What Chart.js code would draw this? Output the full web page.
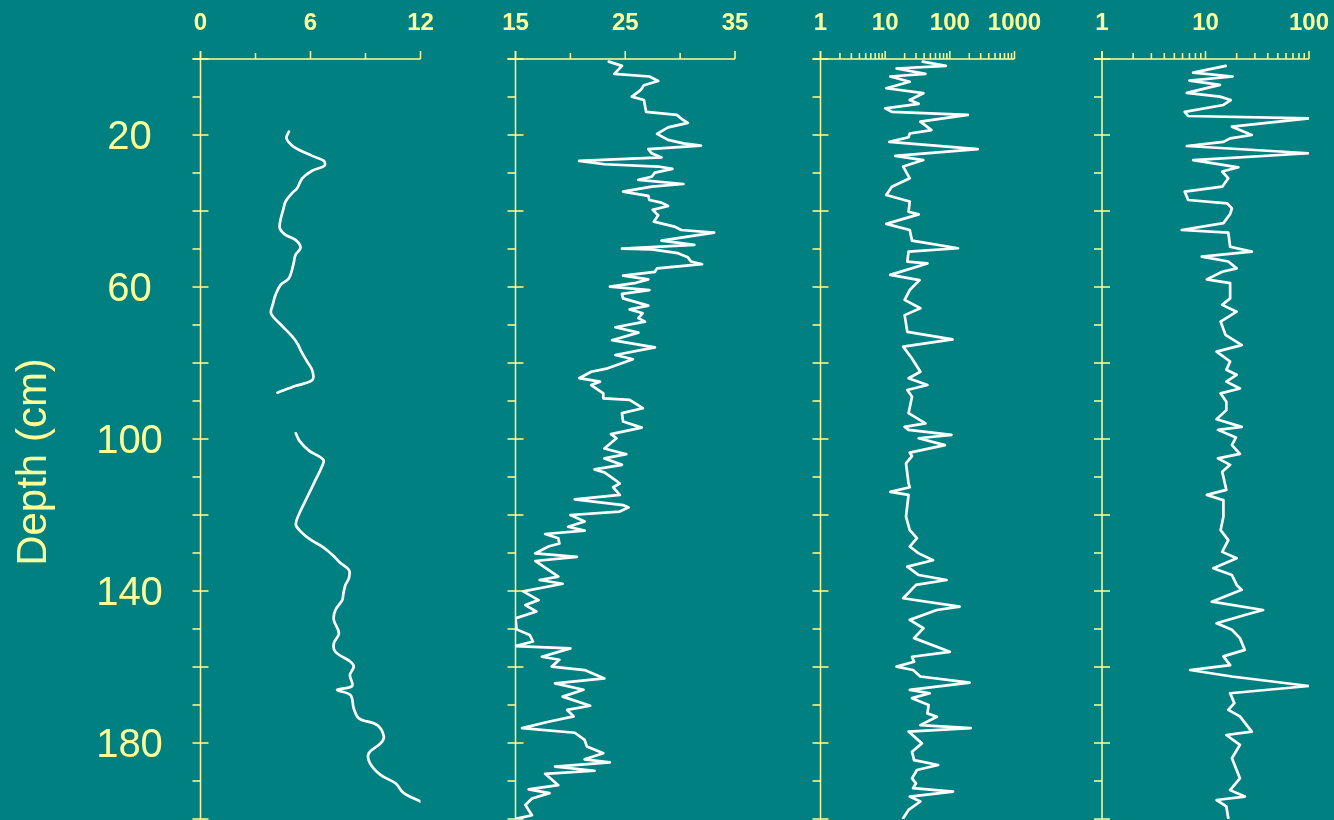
<!DOCTYPE html>
<html>
<head>
<meta charset="utf-8">
<title>Depth profiles</title>
<script src="https://cdn.jsdelivr.net/npm/chart.js@4.4.1/dist/chart.umd.min.js"></script>
<style>
  html, body { margin: 0; padding: 0; background: #008080; overflow: hidden; }
  #stage { position: relative; width: 1334px; height: 820px; }
  #stage canvas { position: absolute; left: 0; top: 0; }
</style>
</head>
<body>
<div id="stage">
  <canvas id="c1" width="1334" height="820"></canvas>
  <canvas id="c2" width="1334" height="820"></canvas>
  <canvas id="c3" width="1334" height="820"></canvas>
  <canvas id="c4" width="1334" height="820"></canvas>
</div>
<script>
// ---- depth axis (shared by all four panels) ----
const depthMin = 0;
const depthMax = 200;
const depthMajorTicks = [0, 20, 40, 60, 80, 100, 120, 140, 160, 180, 200];
const depthMinorTicks = [10, 30, 50, 70, 90, 110, 130, 150, 170, 190];
const depthLabels = [20, 60, 100, 140, 180];
const depthTitle = 'Depth (cm)';

// ---- panel 1 (linear 0–12); null marks the gap between the two core sections ----
const p1Ticks = [0, 6, 12];
const p1Minor = [3, 9];
const p1Depth = [19.1, 20.9, 23.1, 25.5, 26.8, 28.1, 29.4, 31.4, 34.0, 35.3, 37.5, 39.7, 42.4, 44.6, 46.3, 47.6, 49.6, 51.6, 54.2, 57.7, 59.5, 62.1, 64.5, 67.0, 70.0, 73.0, 75.0, 77.0, 79.5, 82.0, 84.5, 86.0, 87.8,
  93.0,
  98.5, 100.5, 103.0, 105.5, 107.5, 110.5, 113.5, 116.5, 119.5, 122.5, 124.5, 126.5, 128.5, 130.5, 132.5, 134.5, 136.5, 138.5, 140.5, 142.4, 145.0, 147.6, 151.1, 153.8, 156.0, 158.6, 159.9, 162.1, 165.0, 166.0, 167.4, 170.9, 173.5, 175.3, 178.3, 180.1, 182.7, 185.3, 188.4, 190.6, 193.2, 195.4];
const p1Value = [4.82, 4.69, 5.09, 6.09, 6.73, 6.76, 6.09, 5.55, 5.27, 5.0, 4.64, 4.51, 4.36, 4.33, 4.64, 5.18, 5.46, 5.18, 5.06, 4.82, 4.36, 4.09, 3.95, 3.85, 4.4, 5.0, 5.3, 5.5, 5.8, 6.1, 6.1, 5.2, 4.2,
  null,
  5.2, 5.4, 5.9, 6.7, 6.6, 6.3, 6.0, 5.7, 5.4, 5.2, 5.5, 6.0, 6.7, 7.2, 7.6, 8.1, 8.1, 7.9, 7.8, 7.73, 7.36, 7.27, 7.55, 7.27, 7.36, 8.18, 8.36, 8.15, 8.27, 7.45, 8.18, 8.36, 8.64, 9.64, 10.0, 9.82, 9.18, 9.24, 9.82, 10.64, 11.09, 12.0];

// ---- panel 2 (linear 15–35) ----
const p2Ticks = [15, 25, 35];
const p2Minor = [20, 30];
const p2Depth = [0.7, 1.8, 3.9, 4.6, 5.8, 6.9, 8.2, 9.9, 10.8, 13.9, 14.7, 15.9, 16.8, 18.0, 19.7, 21.3, 22.2, 22.8, 23.7, 24.8, 25.9, 26.8, 27.7, 28.3, 28.9, 29.9, 31.0, 31.8, 32.9, 33.6, 34.9, 36.0, 37.1, 37.8, 38.7, 39.7, 41.1, 42.8, 44.1, 45.0, 45.7, 47.8, 48.9, 49.9, 50.1, 51.1, 52.2, 53.3, 54.0, 55.1, 56.0, 57.0, 58.0, 58.9, 59.9, 60.8, 61.8, 63.0, 64.9, 65.9, 66.9, 68.2, 69.1, 70.6, 72.0, 74.0, 75.9, 77.9, 79.0, 81.4, 82.3, 84.0, 84.9, 85.8, 88.0, 89.3, 89.7, 91.9, 93.2, 95.4, 97.0, 98.7, 99.8,
  102.5, 104.0, 105.1, 106.8, 108.0, 108.8, 110.6, 111.7, 112.7, 114.7, 115.9, 117.4, 118.0, 119.1, 120.0, 121.7, 123.1, 124.1, 125.0, 126.1, 127.5, 128.3, 130.1, 131.0, 132.1, 136.2, 137.1, 138.1, 140.1, 142.4, 143.7, 145.4, 147.2, 150.1, 151.6, 153.3, 154.5, 155.1, 157.3, 158.1, 159.9, 160.8, 163.0, 164.3, 166.0, 167.8, 170.2, 171.3, 173.0, 174.4, 176.1, 177.3, 179.2, 180.9, 182.7, 184.3, 185.1, 186.2, 187.3, 188.1, 191.1, 192.2, 193.2, 194.6, 196.3, 199.0, 199.9];
const p2Value = [23.5, 24.7, 24.0, 27.2, 28.0, 26.7, 26.4, 25.6, 26.7, 26.9, 29.7, 30.2, 30.7, 28.9, 27.9, 28.9, 30.3, 31.9, 27.1, 27.4, 28.3, 20.8, 23.1, 28.0, 29.3, 27.7, 27.4, 26.2, 30.3, 27.4, 24.8, 27.1, 27.2, 28.3, 28.9, 27.5, 28.0, 27.6, 29.5, 30.1, 33.1, 28.3, 31.3, 24.7, 27.4, 29.8, 30.7, 31.0, 32.0, 27.9, 27.7, 24.8, 27.1, 26.0, 23.6, 27.2, 24.7, 24.8, 27.1, 25.4, 26.6, 26.2, 26.8, 24.1, 26.2, 23.8, 27.7, 24.1, 25.7, 23.4, 21.9, 20.8, 22.7, 21.9, 23.0, 23.0, 25.4, 26.6, 24.7, 24.8, 26.5, 23.7, 24.2,
  23.1, 25.1, 23.1, 24.7, 22.2, 23.1, 24.0, 24.5, 23.9, 24.5, 20.4, 24.8, 25.3, 24.5, 20.0, 21.3, 19.8, 21.3, 17.7, 18.9, 19.0, 18.0, 16.8, 20.6, 16.8, 18.9, 17.2, 19.3, 15.7, 17.1, 15.9, 16.9, 15.0, 15.1, 16.3, 16.6, 15.0, 20.0, 17.4, 19.0, 18.3, 21.3, 23.1, 18.6, 21.2, 19.3, 21.8, 19.7, 20.3, 18.0, 15.6, 20.4, 21.3, 21.5, 23.0, 21.3, 23.6, 18.6, 22.2, 17.7, 18.9, 16.2, 18.1, 16.5, 15.9, 16.5, 15.1];

// ---- panel 3 (log 1–1000) ----
const p3Ticks = [1, 10, 100, 1000];
const p3Minor = [2, 3, 4, 5, 6, 7, 8, 9, 20, 30, 40, 50, 60, 70, 80, 90, 200, 300, 400, 500, 600, 700, 800, 900];
const p3Depth = [0.7, 1.8, 2.5, 3.9, 4.6, 6.0, 7.7, 9.0, 10.8, 11.8, 13.0, 13.9, 14.7, 16.5, 18.7, 19.6, 20.6, 21.8, 23.7, 25.5, 26.6, 28.3, 31.4, 33.6, 35.8, 37.5, 40.2, 40.9, 43.4, 45.0, 47.8, 49.8, 50.7, 53.3, 53.8, 56.8, 58.2, 60.8, 63.4, 65.6, 67.4, 71.8, 73.8, 75.7, 78.8, 82.3, 84.0, 85.8, 87.1, 88.9, 93.2, 95.9, 96.8, 97.6, 98.9, 99.8, 101.6, 103.6, 104.5, 106.4, 111.7, 112.7, 113.9, 114.7, 120.4, 124.0, 126.1, 128.3, 130.1, 131.9, 133.6, 135.8, 137.1, 138.4, 141.9, 144.1, 145.0, 147.6, 149.8, 152.4, 156.0, 157.3, 158.6, 159.9, 160.8, 162.5, 164.1, 166.0, 166.9, 168.2, 170.0, 172.2, 173.1, 175.3, 176.1, 177.0, 180.1, 182.3, 184.5, 185.8, 187.1, 189.3, 190.6, 191.9, 192.8, 194.1, 195.4, 197.6, 199.8];
const p3Value = [38, 87, 15, 42, 12, 24, 10.4, 39, 24, 33, 10, 12.7, 190, 35, 52, 24, 23, 11.6, 270, 14.3, 39, 19, 24, 12.7, 10.4, 24, 23, 33, 10.4, 24, 26, 134, 23, 22, 45, 12, 34, 24, 20, 35, 20, 22, 110, 19, 26, 35, 23, 45, 22, 26, 23, 42, 20, 23, 106, 33, 84, 24, 26, 21, 23, 24, 12, 23, 21, 24, 31, 24, 33, 55, 22, 33, 89, 30, 19, 142, 63, 24, 39, 28, 100, 26, 28, 15, 27, 35, 203, 24, 49, 26, 47, 45, 63, 35, 210, 23, 37, 26, 28, 66, 31, 26, 30, 27, 112, 24, 35, 23, 19];

// ---- panel 4 (log 1–100) ----
const p4Ticks = [1, 10, 100];
const p4Minor = [2, 3, 4, 5, 6, 7, 8, 9, 20, 30, 40, 50, 60, 70, 80, 90];
const p4Depth = [1.8, 3.6, 4.6, 5.7, 6.8, 8.9, 9.9, 10.8, 12.1, 13.9, 15.0, 15.6, 17.8, 20.0, 20.9, 21.8, 22.9, 24.8, 26.6, 28.5, 29.6, 31.4, 33.6, 34.9, 37.1, 38.0, 39.3, 40.8, 43.2, 45.0, 45.7, 49.4, 50.7, 52.0, 53.3, 55.1, 56.0, 58.0, 59.0, 63.0, 64.7, 66.5, 69.1, 72.6, 75.3, 77.0, 79.6, 81.8, 83.1, 84.9, 86.7, 88.0, 90.2, 92.4, 94.8, 96.8, 97.6, 99.6, 101.6, 103.9, 105.1, 106.8, 108.6, 113.4, 114.7, 116.1, 120.4, 124.0, 126.6, 129.7, 131.4, 134.0, 135.8, 138.4, 139.7, 142.8, 145.0, 146.3, 148.5, 150.2, 152.4, 155.5, 157.2, 159.5, 160.8, 162.5, 165.0, 166.9, 169.5, 171.3, 173.0, 177.0, 177.9, 180.5, 184.0, 189.3, 192.4, 194.1, 195.0, 196.7, 199.8];
const p4Value = [15.7, 7.6, 18.3, 7.0, 13.8, 6.6, 13.8, 17.5, 14.9, 6.3, 6.8, 100, 18, 28, 17.3, 14.9, 6.6, 100, 7.6, 20.8, 14.5, 16.6, 14.5, 6.3, 6.8, 16.2, 18, 17.3, 14.9, 5.9, 16.6, 17.3, 28, 9.2, 16.6, 20, 14.5, 10.3, 17.3, 17.3, 14.5, 20, 14, 15.6, 22.4, 12.8, 17.3, 15.9, 20, 15.9, 21.5, 14, 15.9, 15.9, 12.8, 22.4, 13.2, 19.7, 18, 21.5, 13.2, 17.3, 14.5, 15.9, 10.3, 14.9, 14.9, 14, 16.6, 14.5, 20, 11.9, 18, 20, 22.4, 11.5, 36, 24, 12.8, 18, 21.5, 24, 14.9, 17.3, 7.1, 18, 100, 17.3, 19, 16.6, 21.5, 28, 15.9, 21.5, 18, 21.5, 17.3, 24, 12.8, 15.9, 16.6];

// ---- drawing ----
const INK = '#FFFF99';
const CURVE = '#FFFFFF';
const STAGE_W = 1334, STAGE_H = 820;

const panels = [
  { id: 'c1', type: 'linear',      min: 0,  max: 12,   left: 200.5, right: 420.5, ticks: p1Ticks, minor: p1Minor, depth: p1Depth, value: p1Value, tension: 0.35, depthAxisLabels: true },
  { id: 'c2', type: 'linear',      min: 15, max: 35,   left: 515.5, right: 735,   ticks: p2Ticks, minor: p2Minor, depth: p2Depth, value: p2Value, tension: 0 },
  { id: 'c3', type: 'logarithmic', min: 1,  max: 1000, left: 820.5, right: 1014.5, ticks: p3Ticks, minor: p3Minor, depth: p3Depth, value: p3Value, tension: 0 },
  { id: 'c4', type: 'logarithmic', min: 1,  max: 100,  left: 1102,  right: 1309,  ticks: p4Ticks, minor: p4Minor, depth: p4Depth, value: p4Value, tension: 0 }
];

function seg(ctx, x1, y1, x2, y2) {
  ctx.beginPath();
  ctx.moveTo(x1, y1);
  ctx.lineTo(x2, y2);
  ctx.stroke();
}

// Draws the top value axis, the left depth axis and their labels from the chart's scales.
const panelAxes = {
  id: 'panelAxes',
  beforeDatasetsDraw(chart, args, opts) {
    const p = opts.panel;
    const ctx = chart.ctx;
    const xs = chart.scales.x, ys = chart.scales.y;
    const xL = xs.getPixelForValue(p.min), xR = xs.getPixelForValue(p.max);
    const yTop = ys.getPixelForValue(depthMin), yBot = ys.getPixelForValue(depthMax);

    ctx.save();
    ctx.strokeStyle = INK;
    ctx.lineWidth = 1.5;
    seg(ctx, xL - 8, yTop, xR, yTop);
    seg(ctx, xL, yTop - 8, xL, yBot + 2);

    p.ticks.forEach(v => { const px = xs.getPixelForValue(v); seg(ctx, px, yTop, px, yTop - 8); });
    p.minor.forEach(v => { const px = xs.getPixelForValue(v); seg(ctx, px, yTop, px, yTop - 6); });
    depthMajorTicks.forEach(d => { const py = ys.getPixelForValue(d); seg(ctx, xL - 8, py, xL + 8, py); });
    depthMinorTicks.forEach(d => { const py = ys.getPixelForValue(d); seg(ctx, xL - 8, py, xL, py); });

    ctx.fillStyle = INK;
    ctx.textAlign = 'center';
    ctx.textBaseline = 'alphabetic';
    ctx.font = 'bold 24px "Liberation Sans", Arial, sans-serif';
    p.ticks.forEach(v => ctx.fillText(String(v), xs.getPixelForValue(v), 30));

    if (p.depthAxisLabels) {
      ctx.font = '40px "Liberation Sans", Arial, sans-serif';
      depthLabels.forEach(d => ctx.fillText(String(d), 129.5, ys.getPixelForValue(d) + 14.3));
      ctx.save();
      ctx.translate(46, 462);
      ctx.rotate(-Math.PI / 2);
      ctx.font = '42px "Liberation Sans", Arial, sans-serif';
      ctx.fillText(depthTitle, 0, 0);
      ctx.restore();
    }
    ctx.restore();
  }
};

panels.forEach(p => {
  const points = p.depth.map((d, i) => ({ x: p.value[i], y: d }));
  new Chart(document.getElementById(p.id), {
    type: 'scatter',
    data: {
      datasets: [{
        data: points,
        showLine: true,
        borderColor: CURVE,
        borderWidth: 2.7,
        borderJoinStyle: 'round',
        borderCapStyle: 'round',
        pointRadius: 0,
        tension: p.tension,
        spanGaps: false
      }]
    },
    options: {
      responsive: false,
      animation: false,
      devicePixelRatio: 1,
      layout: { padding: { left: p.left, right: STAGE_W - p.right, top: 59, bottom: 1 } },
      scales: {
        x: { type: p.type, min: p.min, max: p.max, display: false },
        y: { type: 'linear', min: depthMin, max: depthMax, reverse: true, display: false }
      },
      plugins: {
        legend: { display: false },
        tooltip: { enabled: false },
        panelAxes: { panel: p }
      },
      events: []
    },
    plugins: [panelAxes]
  });
});
</script>
</body>
</html>
